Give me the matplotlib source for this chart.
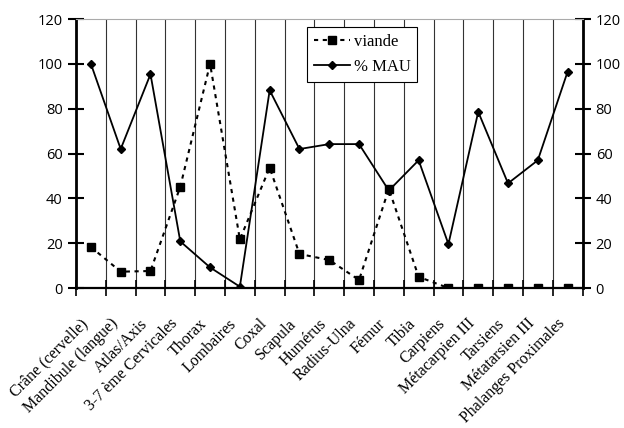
import matplotlib
matplotlib.use("Agg")
import matplotlib.pyplot as plt
import matplotlib.transforms as mtransforms
import numpy as np

categories = ["Crâne (cervelle)", "Mandibule (langue)", "Atlas/Axis",
              "3-7 ème Cervicales", "Thorax", "Lombaires", "Coxal", "Scapula",
              "Humérus", "Radius-Ulna", "Fémur", "Tibia", "Carpiens",
              "Métacarpien III", "Tarsiens", "Métatarsien III",
              "Phalanges Proximales"]
viande = [18.3, 7.3, 7.6, 45.2, 100, 21.7, 53.7, 15.2, 12.5, 3.6, 44.2, 5,
          0, 0, 0, 0, 0]
mau = [100, 62, 95.4, 20.8, 9.2, 0.6, 88.2, 62, 64.2, 64.2, 43.5, 57,
       19.6, 78.6, 46.7, 57, 96.5]
yticks = [0, 20, 40, 60, 80, 100, 120]

serif = "Liberation Serif"
sans = "Open Sans"

fig = plt.figure(figsize=(6.24, 4.28), dpi=100)
ax = fig.add_axes([0.1218, 0.327, 0.8117, 0.6286])

x = np.arange(len(categories))
ax.plot(x, viande, color="black", lw=1.5, ls=(0, (2, 2.2)),
        marker="s", ms=6, label="viande")
ax.plot(x, mau, color="black", lw=1.3, marker="D", ms=4.5, label="% MAU")

ax.set_xlim(-0.5, len(categories) - 0.5)
ax.set_ylim(0, 120)

# category boundaries: grid + crossing ticks
ax.set_xticks(np.arange(-0.5, len(categories), 1), minor=True)
ax.grid(which="minor", axis="x", color="#333333", lw=0.8)
ax.tick_params(axis="x", which="minor", direction="inout", length=11,
               width=1.2)
ax.set_xticks(x)
ax.set_xticklabels(categories, rotation=45, ha="right",
                   rotation_mode="anchor", fontfamily=serif, fontsize=11.5)
ax.tick_params(axis="x", which="major", length=0, pad=20)
shift = mtransforms.ScaledTranslation(-0.11, 0, fig.dpi_scale_trans)
for lab in ax.get_xticklabels():
    lab.set_transform(lab.get_transform() + shift)

ax.set_yticks(yticks)
ax.tick_params(axis="y", direction="inout", length=11, width=1.5,
               left=True, right=True, labelleft=True, labelright=True,
               labelsize=10.5, pad=4)
for lab in ax.get_yticklabels():
    lab.set_fontfamily(sans)

ax.spines["left"].set_linewidth(2)
ax.spines["right"].set_linewidth(2)
ax.spines["bottom"].set_linewidth(1.6)
ax.spines["top"].set_color("#aaaaaa")
ax.spines["top"].set_linewidth(0.8)

leg = ax.legend(loc="upper left", bbox_to_anchor=(0.456, 0.97),
                prop={"family": serif, "size": 12}, fancybox=False,
                framealpha=1, edgecolor="black", handlelength=2.2,
                borderpad=0.4, labelspacing=0.55, handletextpad=0.2,
                borderaxespad=0)
leg.get_frame().set_linewidth(0.8)

fig.savefig("out.png", dpi=100)
